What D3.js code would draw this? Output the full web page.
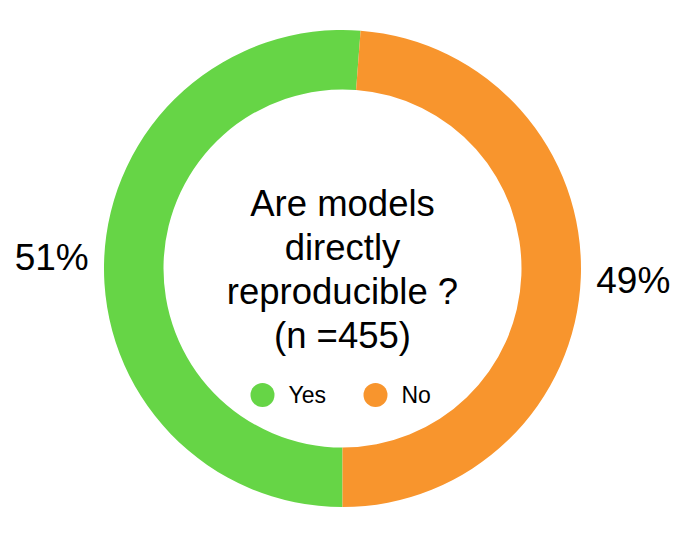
<!DOCTYPE html>
<html>
<head>
<meta charset="utf-8">
<script src="https://cdn.jsdelivr.net/npm/d3@7"></script>
<style>
  body { margin: 0; background: #fff; }
  text { font-family: "Liberation Sans", Arial, Helvetica, sans-serif; fill: #000; }
</style>
</head>
<body>
<svg id="chart" width="680" height="539"></svg>
<script>
var categories = ["Yes", "No"];
var counts = [233, 222]; // n = 455
var percentLabels = ["51%", "49%"];
var colors = ["#66d546", "#f8952d"];
var titleLines = ["Are models", "directly", "reproducible ?", "(n =455)"];

var svg = d3.select("#chart");

var dims = { cx: 342.5, cy: 268.5, outer: 238.5, inner: 179, label: 291 };

var g = svg.append("g")
  .attr("transform", "translate(" + dims.cx + "," + dims.cy + ")");

var pie = d3.pie()
  .sort(null)
  .startAngle(Math.PI) // start at the bottom, go round clockwise
  .endAngle(3 * Math.PI);

var arcs = pie(counts);

var arc = d3.arc().innerRadius(dims.inner).outerRadius(dims.outer);
var labelArc = d3.arc().innerRadius(dims.label).outerRadius(dims.label);

g.selectAll("path.slice")
  .data(arcs)
  .enter()
  .append("path")
  .attr("class", "slice")
  .attr("d", arc)
  .attr("fill", (d, i) => colors[i]);

// percentage labels outside the ring
g.selectAll("text.pct")
  .data(arcs)
  .enter()
  .append("text")
  .attr("class", "pct")
  .attr("transform", (d) => "translate(" + labelArc.centroid(d) + ")")
  .attr("text-anchor", "middle")
  .attr("dy", "0.35em")
  .style("font-size", "37px")
  .text((d, i) => percentLabels[i]);

// title in the hole
g.append("text")
  .attr("text-anchor", "middle")
  .style("font-size", "36.5px")
  .selectAll("tspan")
  .data(titleLines)
  .enter()
  .append("tspan")
  .attr("x", 0)
  .attr("y", (d, i) => -53 + i * 44.3)
  .text((d) => d);

// legend
var legendX = d3.scalePoint().domain(categories).range([262.5, 375.5]);

var legend = svg.append("g")
  .selectAll("g")
  .data(categories)
  .enter()
  .append("g")
  .attr("transform", (d) => "translate(" + legendX(d) + ",395)");

legend.append("circle")
  .attr("r", 12)
  .attr("fill", (d, i) => colors[i]);

legend.append("text")
  .attr("x", 26)
  .attr("dy", "0.36em")
  .style("font-size", "23px")
  .text((d) => d);
</script>
</body>
</html>
